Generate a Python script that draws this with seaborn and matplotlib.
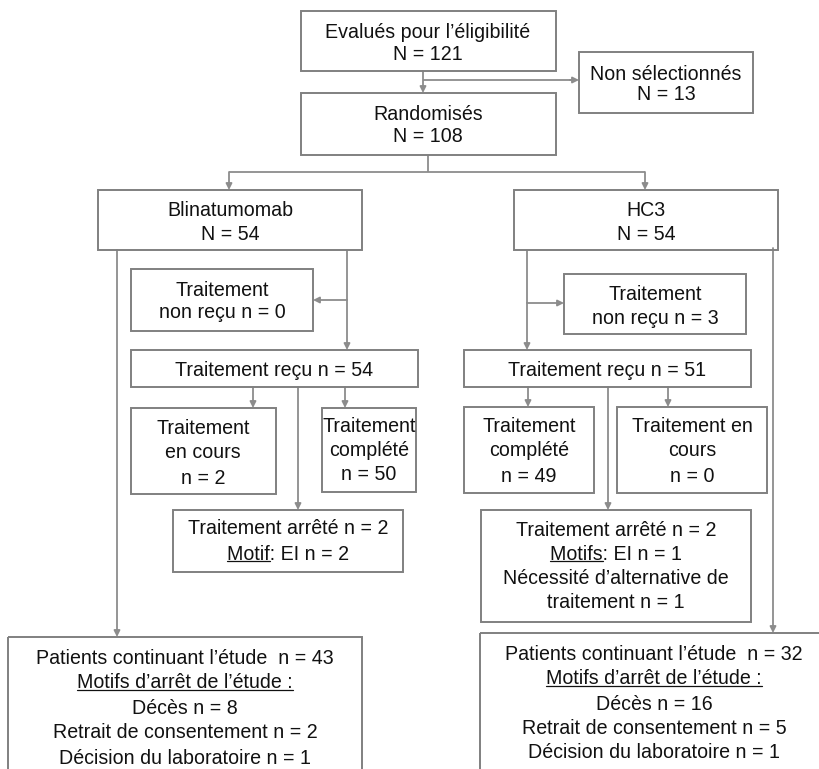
import matplotlib
matplotlib.use("Agg")
import matplotlib.pyplot as plt
import seaborn as sns
from matplotlib.patches import Rectangle

# ---- data ----
eligible_n = 121
not_selected_n = 13
randomised_n = 108
arms = ["Blinatumomab", "HC3"]
arm_n = [54, 54]
not_received_n = [0, 3]
received_n = [54, 51]
ongoing_n = [2, 0]
completed_n = [50, 49]
stopped_n = [2, 2]
stop_ae_n = [2, 1]
stop_alt_n = [0, 1]
continuing_n = [43, 32]
deaths_n = [8, 16]
withdrawal_n = [2, 5]
lab_decision_n = [1, 1]

sns.set_theme(style="white")
plt.rcParams['font.family'] = ['Liberation Sans', 'DejaVu Sans']

W, H = 819, 769
fig = plt.figure(figsize=(W / 100, H / 100), dpi=100)
ax = fig.add_axes([0, 0, 1, 1])
ax.set_xlim(0, W)
ax.set_ylim(H, 0)
ax.axis('off')

BORDER = '#808080'
LINE = '#8c8c8c'
TXT = '#111111'
FS = 14.1
DY = 2  # visual centring offset

underlines = []


def box(x0, y0, x1, y1):
    ax.add_patch(Rectangle((x0, y0), x1 - x0, y1 - y0, fill=False,
                           ec=BORDER, lw=1.4, zorder=2))


def lines(cx, ys, texts, ul=None):
    ul = ul or {}
    for y, s in zip(ys, texts):
        t = ax.text(cx, y + DY, s, ha='center', va='center', fontsize=FS,
                    color=TXT, zorder=3)
        if s in ul:
            underlines.append((t, ul[s]))


def seg(xs, ys):
    ax.plot(xs, ys, color=LINE, lw=1.3, solid_capstyle='butt', zorder=1)


def arrow(x0, y0, x1, y1):
    ax.annotate('', xy=(x1, y1), xytext=(x0, y0),
                arrowprops=dict(arrowstyle='-|>', color=LINE, lw=1.3,
                                mutation_scale=9, shrinkA=0, shrinkB=0),
                zorder=1)


# ---- top ----
box(301, 11, 556, 71)
lines(428, [31, 53], ["Evalués pour l’éligibilité", f"N = {eligible_n}"])
box(579, 52, 753, 113)
lines(666, [72, 93], ["Non sélectionnés", f"N = {not_selected_n}"])
box(301, 93, 556, 155)
lines(428, [113, 135], ["Randomisés", f"N = {randomised_n}"])
arrow(423, 71, 423, 93)
seg([423, 575], [80, 80])
arrow(570, 80, 579, 80)
seg([428, 428], [155, 172])
seg([229, 645], [172, 172])
arrow(229, 172, 229, 190)
arrow(645, 172, 645, 190)

# ---- arm boxes ----
box(98, 190, 362, 250)
lines(230, [208, 232], [arms[0], f"N = {arm_n[0]}"])
box(514, 190, 778, 250)
lines(646, [208, 232], [arms[1], f"N = {arm_n[1]}"])

# ---- left arm ----
seg([347, 347], [250, 300])
arrow(347, 300, 313, 300)
arrow(347, 300, 347, 350)
box(131, 269, 313, 331)
lines(222, [288, 311], ["Traitement", f"non reçu n = {not_received_n[0]}"])
box(131, 350, 418, 387)
lines(274, [369], [f"Traitement reçu n = {received_n[0]}"])
arrow(253, 387, 253, 408)
arrow(345, 387, 345, 408)
arrow(298, 387, 298, 510)
box(131, 408, 276, 494)
lines(203, [426, 451, 476], ["Traitement", "en cours", f"n = {ongoing_n[0]}"])
box(322, 408, 416, 492)
lines(369, [424, 448, 473], ["Traitement", "complété", f"n = {completed_n[0]}"])
box(173, 510, 403, 572)
l1 = f"Motif: EI n = {stop_ae_n[0]}"
lines(288, [527, 552], [f"Traitement arrêté n = {stopped_n[0]}", l1],
      ul={l1: "Motif"})

# ---- right arm ----
seg([527, 527], [250, 303])
arrow(527, 303, 564, 303)
arrow(527, 303, 527, 350)
box(564, 274, 746, 334)
lines(655, [293, 316], ["Traitement", f"non reçu n = {not_received_n[1]}"])
box(464, 350, 751, 387)
lines(607, [369], [f"Traitement reçu n = {received_n[1]}"])
arrow(528, 387, 528, 407)
arrow(668, 387, 668, 407)
arrow(608, 387, 608, 510)
box(464, 407, 594, 493)
lines(529, [424, 448, 474], ["Traitement", "complété", f"n = {completed_n[1]}"])
box(617, 407, 767, 493)
lines(692, [424, 448, 474], ["Traitement en", "cours", f"n = {ongoing_n[1]}"])
box(481, 510, 751, 622)
l2 = f"Motifs: EI n = {stop_ae_n[1]}"
lines(616, [528, 552, 577, 601],
      [f"Traitement arrêté n = {stopped_n[1]}", l2,
       "Nécessité d’alternative de", f"traitement n = {stop_alt_n[1]}"],
      ul={l2: "Motifs"})

# ---- bottom ----
motifs = "Motifs d’arrêt de l’étude :"
arrow(117, 250, 117, 637)
box(8, 637, 362, 820)
lines(185, [657, 681, 706, 731, 756],
      [f"Patients continuant l’étude  n = {continuing_n[0]}", motifs,
       f"Décès n = {deaths_n[0]}",
       f"Retrait de consentement n = {withdrawal_n[0]}",
       f"Décision du laboratoire n = {lab_decision_n[0]}"],
      ul={motifs: motifs})
arrow(773, 248, 773, 633)
box(480, 633, 850, 820)
lines(654, [653, 677, 702, 726, 751],
      [f"Patients continuant l’étude  n = {continuing_n[1]}", motifs,
       f"Décès n = {deaths_n[1]}",
       f"Retrait de consentement n = {withdrawal_n[1]}",
       f"Décision du laboratoire n = {lab_decision_n[1]}"],
      ul={motifs: motifs})

# ---- underlines ----
fig.canvas.draw()
r = fig.canvas.get_renderer()
inv = ax.transData.inverted()
for t, prefix in underlines:
    bb = t.get_window_extent(r)
    tmp = ax.text(0, 0, prefix, fontsize=FS)
    pw = tmp.get_window_extent(r).width
    tmp.remove()
    (dx0, dy), (dx1, _) = inv.transform([(bb.x0, bb.y0 + 3.0), (bb.x0 + pw, bb.y0 + 3.0)])
    ax.plot([dx0, dx1], [dy, dy], color=TXT, lw=0.9, zorder=3)

fig.savefig("out.png", dpi=100)
